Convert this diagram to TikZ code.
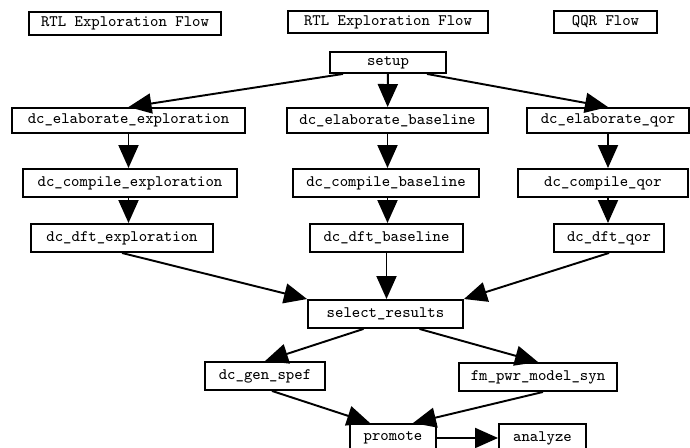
\documentclass[tikz,border=0pt]{standalone}
\usepackage{fontspec}
\usetikzlibrary{arrows.meta,calc}
\begin{document}
\begin{tikzpicture}[x=0.02cm,y=-0.02cm]
\tikzstyle{job}=[rectangle, draw=black, line width=1.1pt, inner sep=0pt, minimum height=0.56cm, font=\fontsize{9.1}{11}\ttfamily]
\tikzstyle{head}=[job, minimum height=0.45cm]
\tikzstyle{connect}=[-{Triangle[length=0.46cm,width=0.4cm]}, line width=1.1pt]
  \clip (0,0) rectangle (690,448);
  % flow titles
  \node[head, minimum width=3.84cm, minimum height=0.47cm] (rtl1) at (125,23.5) {RTL Exploration Flow};
  \node[head, minimum width=4.0cm] (rtl2) at (388,22) {RTL Exploration Flow};
  \node[head, minimum width=2.06cm] (qqr) at (605.5,22) {QQR Flow};
  \node[head, minimum width=2.32cm, minimum height=0.42cm] (setup) at (388,62.5) {setup};
  % elaborate / compile / dft columns
  \node[job, minimum width=4.66cm, minimum height=0.5cm] (elabx) at (128.5,120.5) {dc\_elaborate\_exploration};
  \node[job, minimum width=4.02cm, minimum height=0.5cm] (elabb) at (387.5,120.5) {dc\_elaborate\_baseline};
  \node[job, minimum width=3.24cm, minimum height=0.5cm] (elabq) at (608,120.5) {dc\_elaborate\_qor};
  \node[job, minimum width=4.28cm] (compx) at (130,183) {dc\_compile\_exploration};
  \node[job, minimum width=3.72cm] (compb) at (386,183) {dc\_compile\_baseline};
  \node[job, minimum width=3.4cm] (compq) at (603,183) {dc\_compile\_qor};
  \node[job, minimum width=3.64cm] (dftx) at (122,238) {dc\_dft\_exploration};
  \node[job, minimum width=3.06cm] (dftb) at (386.5,238) {dc\_dft\_baseline};
  \node[job, minimum width=2.2cm] (dftq) at (609,238) {dc\_dft\_qor};
  % results
  \node[job, minimum width=3.1cm] (select) at (385.5,314) {select\_results};
  \node[job, minimum width=2.4cm] (spef) at (265,376) {dc\_gen\_spef};
  \node[job, minimum width=3.16cm] (pwr) at (538,377) {fm\_pwr\_model\_syn};
  \node[job, minimum width=1.72cm] (promote) at (393,438) {promote};
  \node[job, minimum width=1.74cm] (analyze) at (542.5,438) {analyze};

  \draw[connect] ($(setup.south)+(-45,0)$) -- (elabx.north);
  \draw[connect] (setup) -- (elabb);
  \draw[connect] ($(setup.south)+(39,0)$) -- (elabq.north);
  \draw[connect] (elabx.south) -- (elabx.south |- compx.north);
  \draw[connect] (compx.south -| elabx.south) -- (elabx.south |- dftx.north);
  \draw[connect] (elabb.south) -- (elabb.south |- compb.north);
  \draw[connect] (compb.south -| elabb.south) -- (elabb.south |- dftb.north);
  \draw[connect] (elabq.south) -- (elabq.south |- compq.north);
  \draw[connect] (compq.south -| elabq.south) -- (elabq.south |- dftq.north);
  \draw[connect] (dftx.south) -- (select.north west);
  \draw[connect] (dftb.south) -- (dftb.south |- select.north);
  \draw[connect] (dftq.south) -- (select.north east);
  \draw[connect] ($(select.south)+(-22,0)$) -- (spef.north);
  \draw[connect] ($(select.south)+(34,0)$) -- (pwr.north);
  \draw[connect] ($(spef.south)+(7,0)$) -- ($(promote.north)+(-23,0)$);
  \draw[connect] ($(pwr.south)+(5,0)$) -- ($(promote.north)+(20,0)$);
  \draw[connect] (promote) -- (analyze);
\end{tikzpicture}
\end{document}
